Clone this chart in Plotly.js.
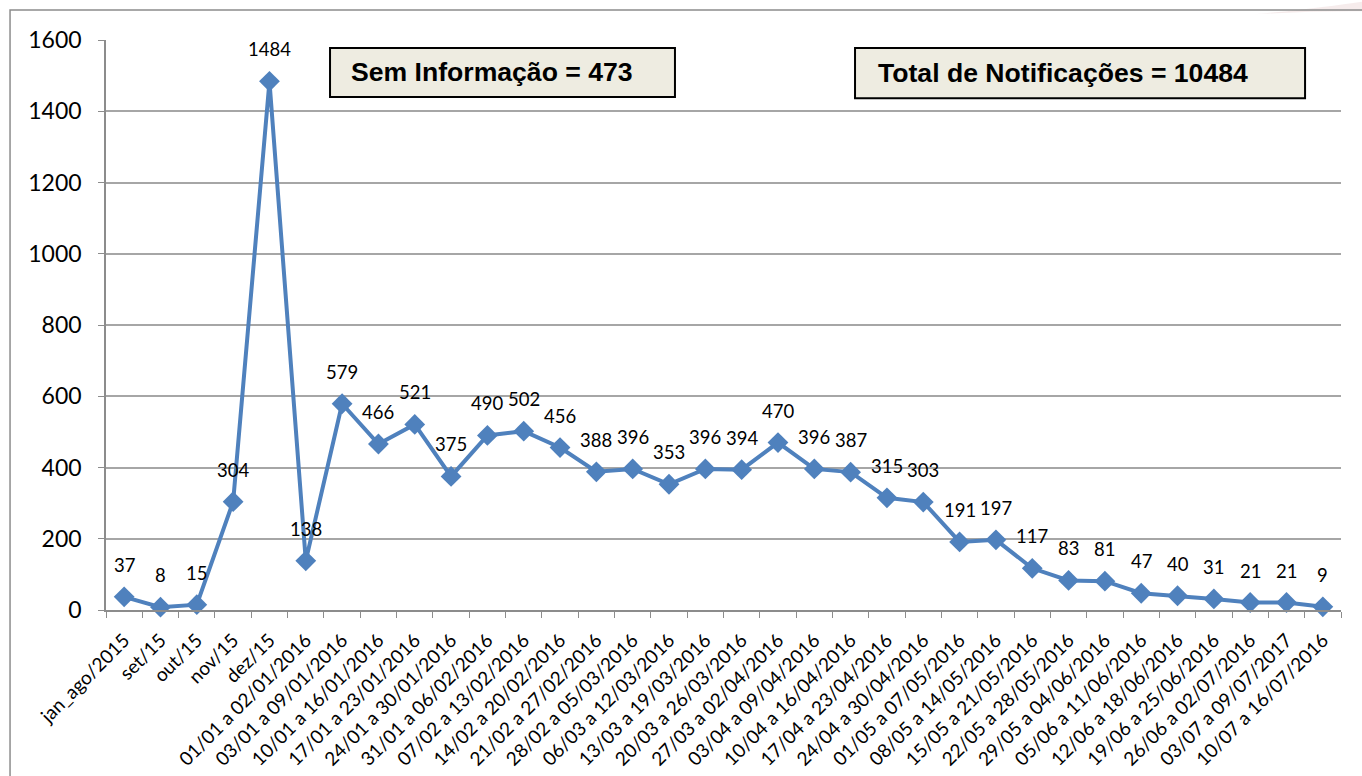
<!DOCTYPE html>
<html>
<head>
<meta charset="utf-8">
<script src="https://cdn.plot.ly/plotly-3.0.1.min.js"></script>
<style>html,body{margin:0;padding:0;background:#fff;}#chart{width:1362px;height:776px;}</style>
</head>
<body>
<div id="chart"></div>
<script>
const categories = ["jan_ago/2015","set/15","out/15","nov/15","dez/15",
"01/01 a 02/01/2016","03/01 a 09/01/2016","10/01 a 16/01/2016","17/01 a 23/01/2016","24/01 a 30/01/2016",
"31/01 a 06/02/2016","07/02 a 13/02/2016","14/02 a 20/02/2016","21/02 a 27/02/2016","28/02 a 05/03/2016",
"06/03 a 12/03/2016","13/03 a 19/03/2016","20/03 a 26/03/2016","27/03 a 02/04/2016","03/04 a 09/04/2016",
"10/04 a 16/04/2016","17/04 a 23/04/2016","24/04 a 30/04/2016","01/05 a 07/05/2016","08/05 a 14/05/2016",
"15/05 a 21/05/2016","22/05 a 28/05/2016","29/05 a 04/06/2016","05/06 a 11/06/2016","12/06 a 18/06/2016",
"19/06 a 25/06/2016","26/06 a 02/07/2016","03/07 a 09/07/2017","10/07 a 16/07/2016"];
const notificacoes = [37,8,15,304,1484,138,579,466,521,375,490,502,456,388,396,353,396,394,470,396,387,315,303,191,197,117,83,81,47,40,31,21,21,9];
const yTicks = [0,200,400,600,800,1000,1200,1400,1600];
const boxTexts = ["Sem Informação = 473","Total de Notificações = 10484"];

const font = "Lato, Open Sans, sans-serif";

const trace = {
  x: categories, y: notificacoes, type: "scatter", mode: "lines+markers",
  line: {color: "#4F81BD", width: 4},
  marker: {symbol: "diamond", size: 16, color: "#4F81BD"},
  hoverinfo: "x+y", cliponaxis: false
};

const labelAnns = categories.map((c, i) => ({
  x: c, y: notificacoes[i], xref: "x", yref: "y", text: String(notificacoes[i]),
  showarrow: false, yshift: 32, font: {family: font, size: 18.5, color: "#000"}
}));

const boxes = [
  {x0: 0.1814, x1: 0.4607, y0: 0.900, y1: 0.986, tx: 0.1968},
  {x0: 0.6065, x1: 0.9709, y0: 0.898, y1: 0.986, tx: 0.6235}
];
const shapes = [
  {type: "path", xref: "paper", yref: "paper",
   path: "M 0.93 1.045 Q 1.0 1.06 1.03 1.072 L 1.03 1.05 Q 0.98 1.052 0.93 1.045 Z",
   line: {width: 0}, fillcolor: "rgba(205,150,150,0.18)", layer: "below"},
  {type: "rect", xref: "paper", yref: "paper", x0: -0.0777, x1: 1.2, y0: -0.5, y1: 1.0526,
   line: {color: "#8c8c8c", width: 1.5}, fillcolor: "rgba(0,0,0,0)", layer: "below"}
];
const textAnns = [];
boxes.forEach((b, i) => {
  shapes.push({type: "rect", xref: "paper", yref: "paper", x0: b.x0, x1: b.x1, y0: b.y0, y1: b.y1,
    line: {color: "#000", width: 2}, fillcolor: "#EEECE1", layer: "above"});
  textAnns.push({xref: "paper", yref: "paper", x: b.tx, y: (b.y0 + b.y1) / 2, xanchor: "left", yanchor: "middle",
    text: "<b>" + boxTexts[i] + "</b>", showarrow: false,
    font: {family: "Liberation Sans, Arial, sans-serif", size: 26.6, color: "#000"}});
});

const layout = {
  width: 1362, height: 776,
  margin: {l: 106, r: 21, t: 40, b: 166},
  paper_bgcolor: "#fff", plot_bgcolor: "#fff",
  showlegend: false,
  font: {family: font, color: "#000"},
  xaxis: {
    type: "category", range: [-0.5, categories.length - 0.5], autorange: false,
    tickangle: -45, tickson: "boundaries", ticks: "outside", ticklen: 6,
    tickcolor: "#8c8c8c", showline: true, linecolor: "#8c8c8c", linewidth: 1.5,
    showgrid: false, tickfont: {family: font, size: 19, color: "#000"}, automargin: false,
    ticklabelstandoff: 10
  },
  yaxis: {
    range: [0, 1600], autorange: false, tickvals: yTicks, ticktext: yTicks.map(String), ticks: "outside", ticklen: 6,
    tickcolor: "#8c8c8c", showline: true, linecolor: "#8c8c8c", linewidth: 1.5,
    showgrid: true, gridcolor: "#a6a6a6", gridwidth: 1.5, zeroline: false,
    tickfont: {family: font, size: 23, color: "#000"}, automargin: false,
    ticklabelstandoff: 12
  },
  shapes: shapes,
  annotations: labelAnns.concat(textAnns)
};

Plotly.newPlot("chart", [trace], layout, {displayModeBar: false});
</script>
</body>
</html>
